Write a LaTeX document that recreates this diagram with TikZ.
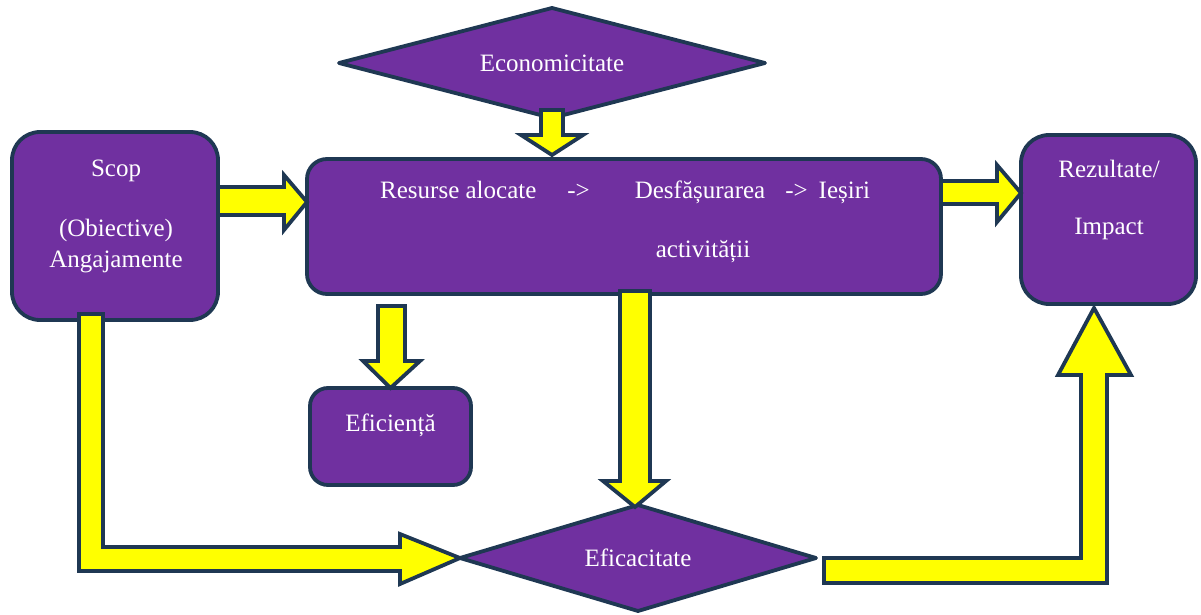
\documentclass[tikz,border=0pt]{standalone}
\usepackage{fontspec}
\setmainfont{Liberation Serif}
\usetikzlibrary{shapes.geometric}
\definecolor{purp}{HTML}{7030A0}
\definecolor{navy}{HTML}{1F3853}
\definecolor{yel}{HTML}{FFFF00}
\tikzset{
  box/.style={draw=navy, fill=purp, line width=3.8pt, inner sep=0pt, outer sep=0pt},
  dia/.style={diamond, draw=navy, fill=purp, line width=3.8pt, inner sep=0pt, outer sep=0pt,
     text=white, font=\fontsize{25}{30}\selectfont, line join=round},
  txt/.style={text=white, font=\fontsize{25}{30}\selectfont, inner sep=0pt, anchor=base},
  barrow/.style={draw=navy, fill=yel, line width=3.8pt, line join=miter}
}
\begin{document}
\begin{tikzpicture}[x=1pt,y=-1pt]
\useasboundingbox (0,0) rectangle (1201,615);
% boxes
\node[box, rounded corners=28pt, minimum width=206pt, minimum height=188pt] (scop) at (115,226) {};
\node[box, rounded corners=20pt, minimum width=634pt, minimum height=135pt] (main) at (624,226.5) {};
\node[box, rounded corners=28pt, minimum width=175pt, minimum height=169pt] (rez) at (1108.5,219.5) {};
\node[box, rounded corners=18pt, minimum width=161pt, minimum height=97pt] (efic) at (390.5,436.5) {};
\node[dia, minimum width=426pt, minimum height=110pt, shape aspect=3.87] (eco) at (552,63) {Economicitate};
\node[dia, minimum width=356pt, minimum height=106pt, shape aspect=3.36] (efc) at (638,558) {Eficacitate};
% texts
\node[txt] (s1) at (116,176) {Scop};
\node[txt] (s2) at (116,236) {(Obiective)};
\node[txt] (s3) at (116,267) {Angajamente};
\node[txt] (r1) at (1109,177) {Rezultate/};
\node[txt] (r2) at (1109,234) {Impact};
\node[txt, anchor=base west] (m1) at (380,198) {Resurse alocate\hspace{31pt}->\hspace{45pt}Desfășurarea\hspace{20pt}->\hspace{11pt}Ieșiri};
\node[txt] (m2) at (703,257) {activității};
\node[txt] (e1) at (390.5,431) {Eficiență};
% block arrows
% economicitate -> main
\draw[barrow] (541,110) -- (563,110) -- (563,135) -- (583,135) -- (552,155) -- (521,135) -- (541,135) -- cycle;
% scop -> main
\draw[barrow] (scop.east |- 0,187) -- (284,187) -- (284,175) -- (main.west |- 0,202) -- (284,230) -- (284,215) -- (scop.east |- 0,215) -- cycle;
% main -> rez
\draw[barrow] (main.east |- 0,181) -- (997,181) -- (997,165) -- (rez.west |- 0,193) -- (997,222) -- (997,204) -- (main.east |- 0,204) -- cycle;
% main -> eficienta
\draw[barrow] (378,306) -- (405,306) -- (405,361) -- (420,361) -- (efic.north) -- (363,361) -- (378,361) -- cycle;
% main -> eficacitate
\draw[barrow] (620,291) -- (650,291) -- (650,481) -- (666,481) -- (635,507) -- (603,481) -- (620,481) -- cycle;
% scop -> eficacitate
\draw[barrow] (79,314) -- (103,314) -- (103,547) -- (400,547) -- (400,534) -- (efc.west) -- (400,584) -- (400,571) -- (79,571) -- cycle;
% eficacitate -> rez
\draw[barrow] (824,558) -- (1081,558) -- (1081,375) -- (1058,375) -- (1094,308) -- (1131,375) -- (1107,375) -- (1107,583) -- (824,583) -- cycle;
\end{tikzpicture}
\end{document}
